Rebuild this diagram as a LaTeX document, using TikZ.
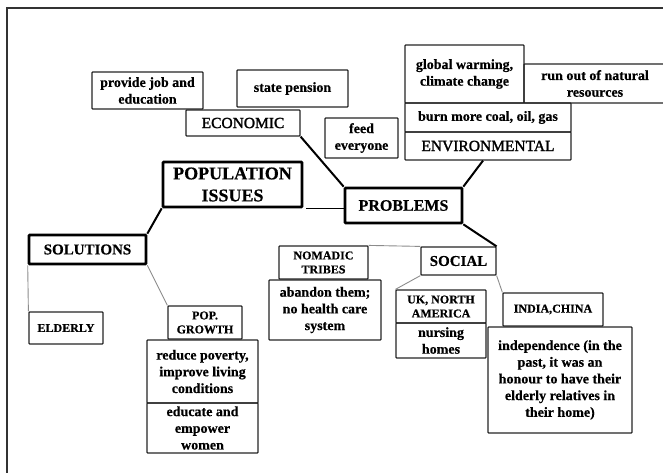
\documentclass[tikz,border=0pt]{standalone}
\usepackage{fontspec}
\setmainfont{Liberation Serif}[BoldFeatures={FakeBold=0.5}]
\newfontfamily\medfont{Liberation Serif}[FakeBold=1.6]
\begin{document}
\begin{tikzpicture}[x=1pt,y=-1pt,
  box/.style={draw=black!85, line width=1.2pt, rounded corners=0.8pt, align=center,
    inner sep=1pt, text=black, font=\bfseries\fontsize{14}{16.7}\selectfont},
  keybox/.style={box, line width=2.6pt, draw=black},
  tag/.style={box, font=\bfseries\fontsize{12}{14}\selectfont},
  branch/.style={box, font=\medfont\fontsize{15.5}{18}\selectfont},
  link/.style={draw=black, line width=2pt},
  thinlink/.style={draw=black!45, line width=0.9pt}]
\useasboundingbox (0,0) rectangle (663,472);
\clip (0,0) rectangle (663,472);
\fill[white] (0,0) rectangle (663,472);

% outer frame
\draw[black!80, line width=2pt] (7,480) -- (7,8) -- (670,8);

% central nodes
\node[keybox, minimum width=139, minimum height=45, font=\bfseries\fontsize{18}{22}\selectfont]
  (pop) at (232.5,184.5) {POPULATION\\ISSUES};
\node[keybox, minimum width=117, minimum height=29, font=\bfseries\fontsize{15}{18}\selectfont]
  (sol) at (87.5,249.5) {SOLUTIONS};
\node[keybox, minimum width=117, minimum height=35, font=\bfseries\fontsize{16}{19}\selectfont]
  (prob) at (403.5,205.5) {PROBLEMS};

% economic branch
\node[box, minimum width=111, minimum height=37] (job) at (147.5,90.5) {provide job and\\education};
\node[box, minimum width=111, minimum height=37] (pension) at (292.5,88.5) {state pension};
\node[branch, minimum width=114, minimum height=26] (econ) at (243,123) {ECONOMIC};
\node[box, minimum width=73, minimum height=40] (feed) at (361.5,138) {feed\\everyone};

% environmental branch
\node[box, minimum width=119, minimum height=58] (warm) at (464.5,74) {global warming,\\climate change};
\node[box, minimum width=142, minimum height=39] (runout) at (595,83.5) {run out of natural\\resources};
\node[box, minimum width=166, minimum height=29] (burn) at (488,117.5) {burn more coal, oil, gas};
\node[branch, minimum width=166, minimum height=28] (env) at (488,146) {ENVIRONMENTAL};

% solutions branch
\node[tag, minimum width=74, minimum height=32] (eld) at (66,328) {ELDERLY};
\node[tag, minimum width=74, minimum height=33] (growth) at (205,322.5) {POP.\\GROWTH};
\node[box, minimum width=111, minimum height=63] (poverty) at (202.5,371.5) {reduce poverty,\\improve living\\conditions};
\node[box, minimum width=111, minimum height=50] (women) at (202.5,428) {educate and\\empower\\women};

% social branch
\node[tag, minimum width=89, minimum height=33] (nomad) at (323.5,262.5) {NOMADIC\\TRIBES};
\node[box, minimum width=112, minimum height=60] (abandon) at (325,310) {abandon them;\\no health care\\system};
\node[box, minimum width=75, minimum height=28, font=\bfseries\fontsize{15}{18}\selectfont]
  (social) at (458.5,261) {SOCIAL};
\node[tag, minimum width=90, minimum height=33] (uk) at (441,306.5) {UK, NORTH\\AMERICA};
\node[box, minimum width=90, minimum height=35] (nursing) at (441,340.5) {nursing\\homes};
\node[tag, minimum width=100, minimum height=33] (india) at (553,309.5) {INDIA,CHINA};
\node[box, minimum width=144, minimum height=106] (indep) at (560,380)
  {independence (in the\\past, it was an\\honour to have their\\elderly relatives in\\their home)};

% connectors
\draw[link] (sol.north east) -- (pop.south west);
\draw[link, line width=1.4pt] ([xshift=3pt]pop.south east) -- (pop.south east -| prob.west);
\draw[link] (econ.south east) -- (prob.north west);
\draw[link] ([xshift=-5pt]env.south) -- (prob.north east);
\draw[link] (prob.south east) -- (social.north east);
\draw[thinlink] (nomad.north east) -- (social.north west);
\draw[thinlink] (social.south west) -- (uk.north west);
\draw[thinlink] (social.south east) -- (india.north west);
\draw[thinlink] (sol.south west) -- (eld.north west);
\draw[thinlink] (sol.south east) -- (growth.north west);
\end{tikzpicture}
\end{document}
